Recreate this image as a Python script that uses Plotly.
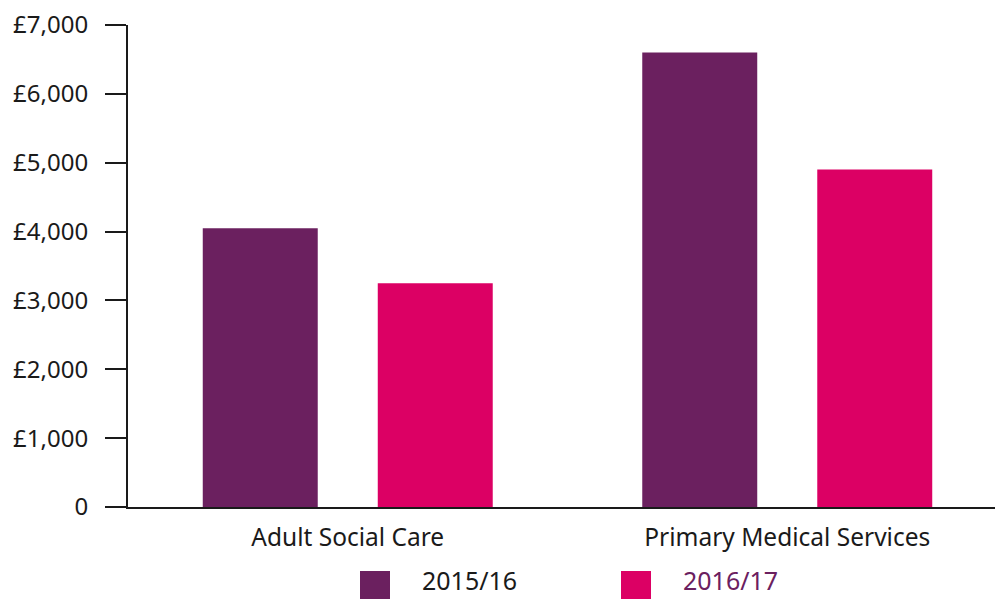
import plotly.graph_objects as go

categories = ["Adult Social Care", "Primary Medical Services"]
series_names = ["2015/16", "2016/17"]
values_2015 = [4050, 6600]
values_2016 = [3250, 4900]
tick_vals = [0, 1000, 2000, 3000, 4000, 5000, 6000, 7000]
tick_text = ["0", "£1,000", "£2,000", "£3,000", "£4,000", "£5,000", "£6,000", "£7,000"]

colors = ["#6B205F", "#DC0064"]
legend_text_colors = ["#1a1a1a", "#6B205F"]

W, H = 995, 599
L, R, T, B = 128, 0, 25, 92
PW = W - L - R
PH = H - T - B
FONT = "Noto Sans"

def px(x):
    return (x - L) / PW

def py(y):
    return (H - B - y) / PH

fig = go.Figure()
for name, vals, c in zip(series_names, [values_2015, values_2016], colors):
    fig.add_trace(go.Bar(x=categories, y=vals, name=name, marker_color=c,
                         marker_line_width=0, showlegend=False))

# manual legend
leg_sq_x = [360, 621]
leg_txt_x = [421, 682]
shapes = []
annotations = []
for i, name in enumerate(series_names):
    shapes.append(dict(type="rect", xref="paper", yref="paper",
                       x0=px(leg_sq_x[i]), x1=px(leg_sq_x[i] + 30),
                       y0=py(571), y1=py(601), fillcolor=colors[i],
                       line_width=0))
    annotations.append(dict(xref="paper", yref="paper", x=px(leg_txt_x[i]), y=py(598),
                            xanchor="left", yanchor="bottom", text=name, showarrow=False,
                            borderpad=0,
                            font=dict(family=FONT, size=25, color=legend_text_colors[i])))

fig.update_layout(
    width=W, height=H,
    margin=dict(l=L, r=R, t=T, b=B, pad=0),
    paper_bgcolor="white", plot_bgcolor="white",
    barmode="group", bargap=0.2036, bargroupgap=0.343,
    font=dict(family=FONT, size=25, color="#1a1a1a"),
    shapes=shapes, annotations=annotations,
    showlegend=False,
)
fig.update_xaxes(range=[-0.5, 1.5 - 12 / 439.5], showline=True, linecolor="#1a1a1a",
                 linewidth=2, ticks="", showgrid=False, zeroline=False,
                 tickfont=dict(family=FONT, size=24.5, color="#1a1a1a"),
                 ticklabelstandoff=8)
fig.update_yaxes(range=[0, 7000], tickvals=tick_vals, ticktext=tick_text,
                 showline=True, linecolor="#1a1a1a", linewidth=2,
                 ticks="outside", ticklen=21, tickwidth=1.5, tickcolor="#1a1a1a",
                 showgrid=False, zeroline=False,
                 tickfont=dict(family=FONT, size=24, color="#1a1a1a"),
                 ticklabelstandoff=12)

fig.write_html("out.html")
